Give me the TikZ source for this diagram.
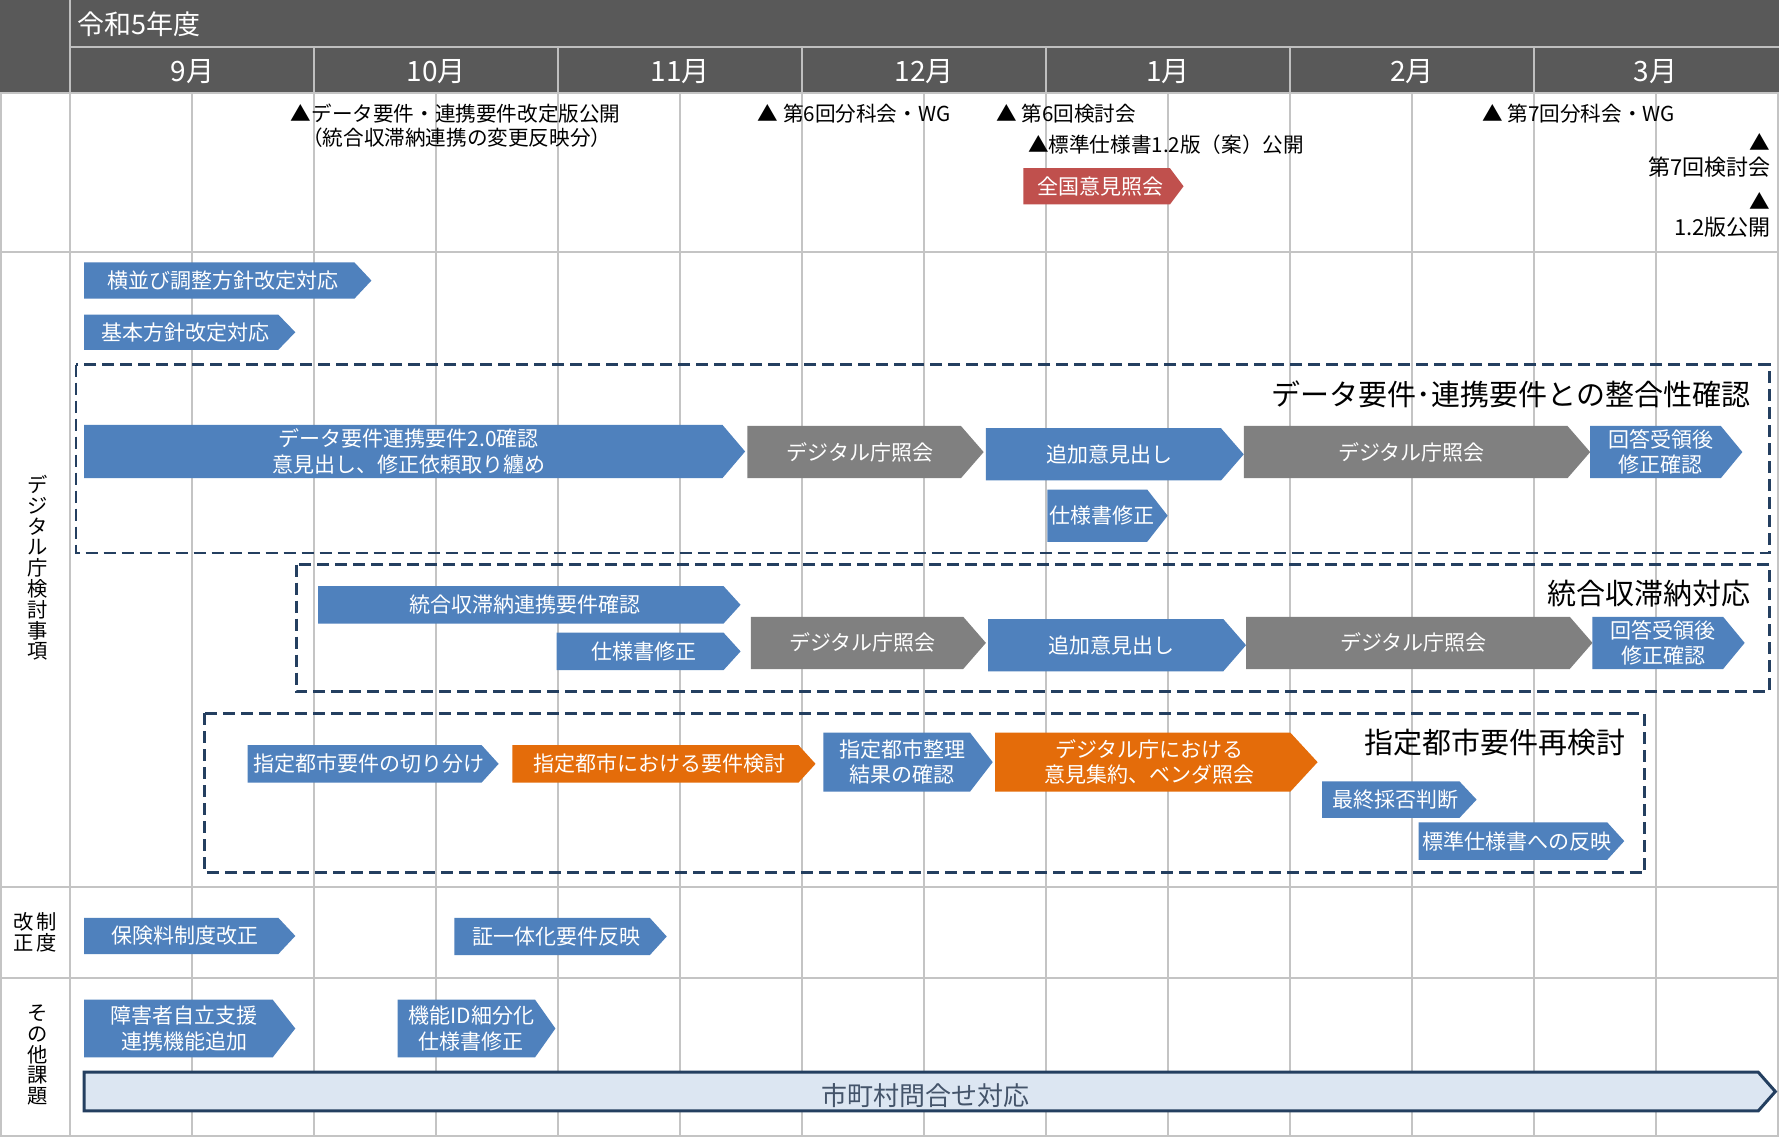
\documentclass[tikz,border=0pt]{standalone}
\usepackage{fontspec}
\setmainfont{Noto Sans CJK JP}
\definecolor{hdr}{HTML}{595959}
\definecolor{hdrline}{HTML}{BFBFBF}
\definecolor{gridc}{HTML}{C4C4C4}
\definecolor{blu}{HTML}{4F81BD}
\definecolor{gry}{HTML}{808080}
\definecolor{org}{HTML}{E46C0A}
\definecolor{redc}{HTML}{C0504D}
\definecolor{navy}{HTML}{243F60}
\definecolor{lblue}{HTML}{DCE6F2}
\definecolor{navytxt}{HTML}{44546A}
% pentagon arrow: name, colour, x1, y1, x2, y2, tip, text
\newcommand\parr[8]{%
  \fill[#2] (#3,#4) -- ({#5-#7},#4) -- (#5,{(#4+#6)/2}) -- ({#5-#7},#6) -- (#3,#6) -- cycle;
  \node[atext] (#1) at ({(#3+#5-#7/2)/2},{(#4+#6)/2}) {#8};
}
\begin{document}
\begin{tikzpicture}[x=1.1358pt,y=-1.1358pt,
  atext/.style={text=white,font=\fontsize{21}{25.5}\selectfont,align=center,inner sep=0pt},
  mtext/.style={font=\fontsize{20.6}{24}\selectfont,inner sep=0pt},
  ttext/.style={font=\fontsize{29}{33}\selectfont,inner sep=0pt,anchor=east},
  htext/.style={text=white,inner sep=0pt},
  gridline/.style={draw=gridc,line width=2pt},
  hline/.style={draw=hdrline,line width=2pt},
  dbox/.style={draw=navy,line width=2.6pt,dash pattern=on 12pt off 6pt},
  vlab/.style={font=\fontsize{20.3}{20.8}\selectfont,align=center,inner sep=0pt}
]
\useasboundingbox (0,0) rectangle (1568,1003);
\fill[white] (0,0) rectangle (1568,1003);
% ---------- header ----------
\fill[hdr] (0,0) rectangle (1566,82);
\draw[hline] (62,0) -- (62,82);
\draw[hline] (62,41) -- (1566,41);
\foreach \k in {1,...,6} {\draw[hline] ({62+\k*214.714},41) -- ({62+\k*214.714},82);}
\node[htext,anchor=west,font=\fontsize{27}{30}\selectfont] (year) at (68,21) {令和5年度};
\foreach \m [count=\k from 0] in {9月,10月,11月,12月,1月,2月,3月}
  {\node[htext,font=\fontsize{28}{32}\selectfont] (m\k) at ({62+(\k+0.5)*214.714},63) {\m};}
% ---------- grid ----------
\foreach \k in {1,...,14} {\draw[gridline] ({62+\k*107.357},82) -- ({62+\k*107.357},1000);}
\draw[gridline] (62,82) -- (62,1000);
\draw[gridline] (1,82) -- (1,1000);
\foreach \yy in {82,222,781,861,1000} {\draw[gridline] (0,\yy) -- (1566,\yy);}
% ---------- left labels ----------
\node[vlab] (lab1) at (33,500) {デ\\ジ\\タ\\ル\\庁\\検\\討\\事\\項};
\node[vlab] (lab2) at (31,821) {改\hspace{3pt}制\\正\hspace{3pt}度};
\node[vlab] (lab3) at (33,929) {そ\\の\\他\\課\\題};
% ---------- milestones ----------
\node[mtext,anchor=west] (ms1) at (256,100) {▲データ要件・連携要件改定版公開};
\node[mtext,anchor=west] (ms1b) at (266,121) {（統合収滞納連携の変更反映分）};
\node[mtext,anchor=west] (ms2) at (667,100) {▲ 第6回分科会・WG};
\node[mtext,anchor=west] (ms3) at (877,100) {▲ 第6回検討会};
\node[mtext,anchor=west] (ms4) at (905,127) {▲標準仕様書1.2版（案）公開};
\node[mtext,anchor=west] (ms5) at (1305,100) {▲ 第7回分科会・WG};
\node[mtext] (ms6t) at (1549,125) {▲};
\node[mtext,anchor=east,font=\fontsize{22}{26}\selectfont] (ms6) at (1559,147) {第7回検討会};
\node[mtext] (ms7t) at (1549,177) {▲};
\node[mtext,anchor=east,font=\fontsize{22}{26}\selectfont] (ms7) at (1559,200) {1.2版公開};
\parr{r1}{redc}{901}{148}{1042}{180}{12}{全国意見照会}
% ---------- dashed boxes ----------
\draw[dbox] (67,321) rectangle (1558,487);
\draw[dbox] (261,497) rectangle (1558,609);
\draw[dbox] (180,628) rectangle (1448,768);
\node[ttext] (t1) at (1541,347) {データ要件･連携要件との整合性確認};
\node[ttext] (t2) at (1541,523) {統合収滞納対応};
\node[ttext] (t3) at (1431,654) {指定都市要件再検討};
% ---------- digital section arrows ----------
\parr{a1}{blu}{74}{231}{327}{263}{15}{横並び調整方針改定対応}
\parr{a2}{blu}{74}{277}{260}{308}{15}{基本方針改定対応}
\parr{b1}{blu}{74}{374}{656}{421}{20}{データ要件連携要件2.0確認\\意見出し、修正依頼取り纏め}
\parr{b2}{gry}{658}{375}{866}{421}{20}{デジタル庁照会}
\parr{b3}{blu}{868}{377}{1095}{423}{20}{追加意見出し}
\parr{b4}{gry}{1095}{375}{1400}{421}{20}{デジタル庁照会}
\parr{b5}{blu}{1400}{375}{1534}{421}{19}{回答受領後\\修正確認}
\parr{b6}{blu}{922}{431}{1028}{477}{18}{仕様書修正}
\parr{c1}{blu}{280}{516}{652}{549}{15}{統合収滞納連携要件確認}
\parr{c2}{blu}{490}{557}{652}{590}{15}{仕様書修正}
\parr{c3}{gry}{661}{543}{868}{589}{20}{デジタル庁照会}
\parr{c4}{blu}{870}{545}{1097}{591}{20}{追加意見出し}
\parr{c5}{gry}{1097}{543}{1402}{589}{20}{デジタル庁照会}
\parr{c6}{blu}{1402}{543}{1536}{589}{19}{回答受領後\\修正確認}
\parr{d1}{blu}{218}{656}{439}{689}{15}{指定都市要件の切り分け}
\parr{d2}{org}{451}{656}{718}{689}{15}{指定都市における要件検討}
\parr{d3}{blu}{725}{645}{874}{697}{20}{指定都市整理\\結果の確認}
\parr{d4}{org}{876}{645}{1160}{697}{24}{デジタル庁における\\意見集約、ベンダ照会}
\parr{d5}{blu}{1164}{688}{1300}{720}{15}{最終採否判断}
\parr{d6}{blu}{1249}{724}{1430}{757}{15}{標準仕様書への反映}
% ---------- system revision ----------
\parr{e1}{blu}{74}{808}{260}{840}{15}{保険料制度改正}
\parr{e2}{blu}{400}{808}{587}{841}{15}{証一体化要件反映}
% ---------- other ----------
\parr{f1}{blu}{74}{880}{260}{931}{20}{障害者自立支援\\連携機能追加}
\parr{f2}{blu}{350}{880}{489}{931}{18}{機能ID細分化\\仕様書修正}
\filldraw[fill=lblue,draw=navy,line width=3pt,line join=miter] (74,944) -- (1548,944) -- (1563,961) -- (1548,978) -- (74,978) -- cycle;
\node[inner sep=0pt,text=navytxt,font=\fontsize{26}{30}\selectfont] (f3) at (815,965) {市町村問合せ対応};
\end{tikzpicture}
\end{document}
